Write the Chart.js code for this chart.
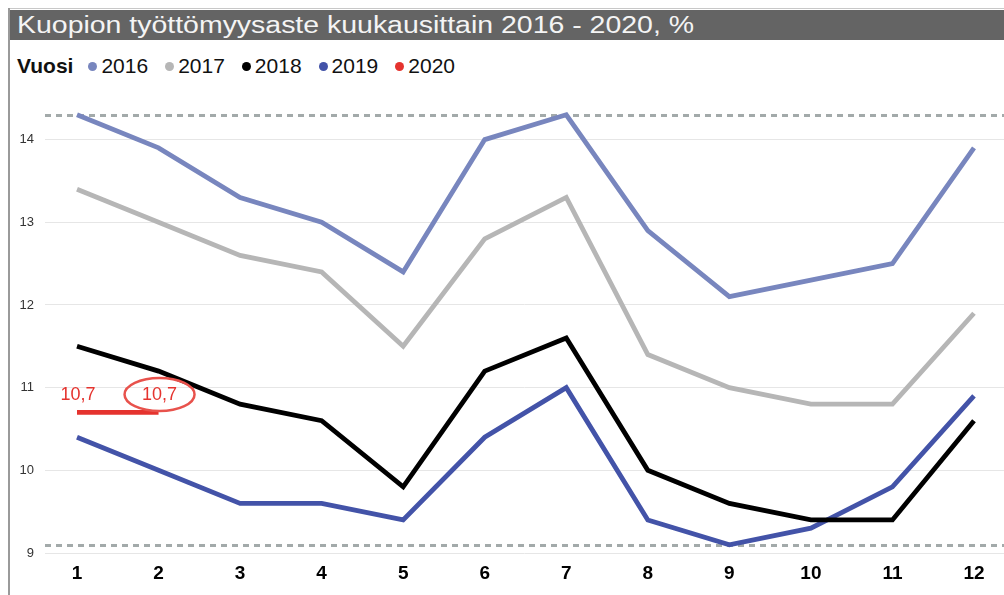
<!DOCTYPE html>
<html>
<head>
<meta charset="utf-8">
<script src="https://cdn.jsdelivr.net/npm/chart.js@4/dist/chart.umd.min.js"></script>
<style>
  html, body { margin: 0; padding: 0; background: #fff; width: 1004px; height: 595px; overflow: hidden; position: relative; font-family: "Liberation Sans", Arial, sans-serif; }
  #frameTop { position: absolute; left: 8px; top: 8px; width: 996px; height: 1px; background: #c8c8c8; }
  #frameLeft { position: absolute; left: 8px; top: 8px; width: 2px; height: 587px; background: #9a9a9a; }
  #titlebar { position: absolute; left: 10px; top: 10px; width: 994px; height: 30px; background: #646464; overflow: hidden; }
  #title { position: absolute; left: 7px; top: 1px; font-size: 23px; line-height: 28px; color: #f4f4f4; white-space: nowrap; transform-origin: 0 0; }
  #legend { position: absolute; left: 17px; top: 53px; display: flex; align-items: center; font-size: 21px; line-height: 26px; color: #111; white-space: nowrap; }
  #legend .lt { font-weight: bold; margin-right: 15px; }
  #legend .item { display: flex; align-items: center; margin-right: 17px; }
  #legend .dot { width: 9px; height: 9px; border-radius: 50%; margin-right: 4px; }
  #wrap { position: absolute; left: 10px; top: 40px; width: 994px; height: 555px; }
</style>
</head>
<body>
<div id="frameTop"></div>
<div id="frameLeft"></div>
<div id="titlebar"><span id="title">Kuopion työttömyysaste kuukausittain 2016 - 2020, %</span></div>
<div id="legend"></div>
<div id="wrap"><canvas id="c" width="994" height="555"></canvas></div>
<script>
// ---- data ----
const months = [1, 2, 3, 4, 5, 6, 7, 8, 9, 10, 11, 12];
const yTicks = [9, 10, 11, 12, 13, 14];
const legendTitle = "Vuosi";
const years = ["2016", "2017", "2018", "2019", "2020"];
const v2016 = [14.3, 13.9, 13.3, 13.0, 12.4, 14.0, 14.3, 12.9, 12.1, 12.3, 12.5, 13.9];
const v2017 = [13.4, 13.0, 12.6, 12.4, 11.5, 12.8, 13.3, 11.4, 11.0, 10.8, 10.8, 11.9];
const v2018 = [11.5, 11.2, 10.8, 10.6, 9.8, 11.2, 11.6, 10.0, 9.6, 9.4, 9.4, 10.6];
const v2019 = [10.4, 10.0, 9.6, 9.6, 9.4, 10.4, 11.0, 9.4, 9.1, 9.3, 9.8, 10.9];
const v2020 = [10.7, 10.7];
const seriesValues = [v2016, v2017, v2018, v2019, v2020];
const colors = ["#7886be", "#b6b6b6", "#000000", "#4353a8", "#e5332e"];

// ---- title fit ----
(function () {
  const t = document.getElementById('title');
  const w = t.getBoundingClientRect().width;
  t.style.transform = 'scaleX(' + (677 / w) + ')';
})();

// ---- legend ----
(function () {
  const lg = document.getElementById('legend');
  const lt = document.createElement('span');
  lt.className = 'lt'; lt.textContent = legendTitle; lg.appendChild(lt);
  years.forEach((y, i) => {
    const it = document.createElement('span'); it.className = 'item';
    const d = document.createElement('span'); d.className = 'dot'; d.style.background = colors[i];
    const tx = document.createElement('span'); tx.textContent = y;
    it.appendChild(d); it.appendChild(tx); lg.appendChild(it);
  });
})();

const allVals = [].concat(v2016, v2017, v2018, v2019, v2020);
const maxVal = Math.max.apply(null, allVals);
const minVal = Math.min.apply(null, allVals);

const refLines = {
  id: 'refLines',
  beforeDatasetsDraw(chart) {
    const { ctx, chartArea, scales } = chart;
    ctx.save();
    ctx.strokeStyle = '#a3aaaa';
    ctx.lineWidth = 3;
    ctx.setLineDash([6, 5]);
    [maxVal, minVal].forEach(v => {
      const y = Math.round(scales.y.getPixelForValue(v)) + 0.5;
      ctx.beginPath();
      ctx.moveTo(chartArea.left, y);
      ctx.lineTo(chartArea.right, y);
      ctx.stroke();
    });
    ctx.restore();
  }
};

const labels2020 = {
  id: 'labels2020',
  afterDatasetsDraw(chart) {
    const { ctx } = chart;
    const meta = chart.getDatasetMeta(4);
    ctx.save();
    ctx.fillStyle = '#e5332e';
    ctx.font = '18px "Liberation Sans", Arial, sans-serif';
    ctx.textAlign = 'center';
    ctx.textBaseline = 'middle';
    meta.data.forEach((pt, i) => {
      const txt = String(v2020[i]).replace('.', ',');
      ctx.fillText(txt, pt.x + 1, pt.y - 17);
      if (i === meta.data.length - 1) {
        ctx.strokeStyle = '#e8524c';
        ctx.lineWidth = 2.5;
        ctx.beginPath();
        ctx.ellipse(pt.x + 1, pt.y - 18, 35, 16.5, 0, 0, Math.PI * 2);
        ctx.stroke();
      }
    });
    ctx.restore();
  }
};

const datasets = seriesValues.map((vals, i) => ({
  label: years[i],
  data: vals.map((v, j) => ({ x: months[j], y: v })),
  borderColor: colors[i],
  backgroundColor: colors[i],
  borderWidth: 4.8,
  pointRadius: 0,
  pointHoverRadius: 0,
  tension: 0,
  fill: false
}));

new Chart(document.getElementById('c'), {
  type: 'line',
  data: { datasets: datasets },
  options: {
    responsive: false,
    animation: false,
    events: [],
    layout: { padding: { top: 50, right: 0, bottom: 0, left: 0 } },
    plugins: { legend: { display: false }, tooltip: { enabled: false } },
    scales: {
      x: {
        type: 'linear',
        min: 0.6076,
        max: 12.368,
        afterBuildTicks(s) { s.ticks = months.map(v => ({ value: v })); },
        afterFit(s) { s.height = 42; },
        grid: { display: false, drawTicks: false },
        border: { display: false },
        ticks: {
          padding: 9,
          autoSkip: false,
          maxRotation: 0,
          color: '#000',
          font: { family: '"Liberation Sans", Arial, sans-serif', size: 19, weight: 'bold' }
        }
      },
      y: {
        type: 'linear',
        min: 9,
        max: 14.6,
        afterBuildTicks(s) { s.ticks = yTicks.map(v => ({ value: v })); },
        afterFit(s) { s.width = 35; },
        grid: { color: '#e6e6e6', lineWidth: 1, drawTicks: false },
        border: { display: false },
        ticks: {
          padding: 11,
          color: '#333',
          font: { family: '"Liberation Sans", Arial, sans-serif', size: 13 }
        }
      }
    }
  },
  plugins: [refLines, labels2020]
});
</script>
</body>
</html>
